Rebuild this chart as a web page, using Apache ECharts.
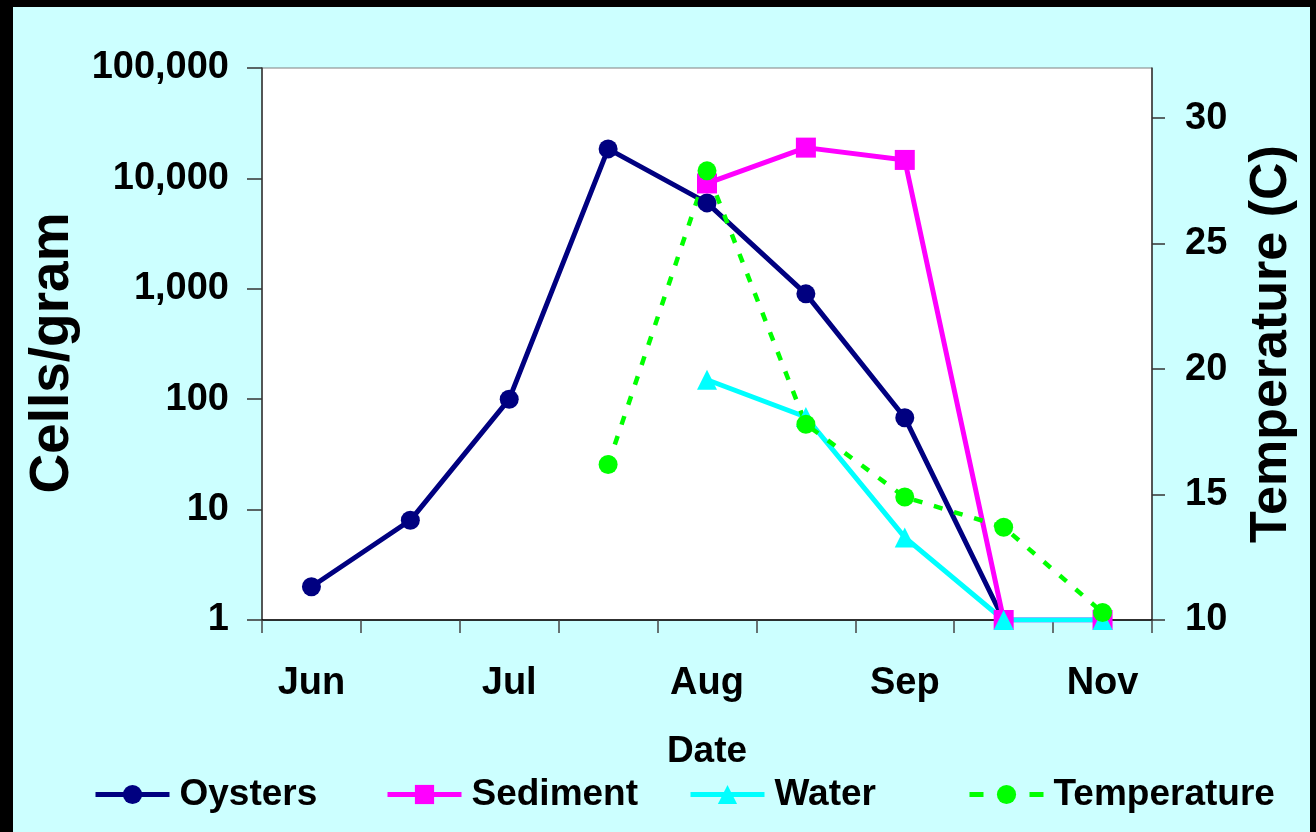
<!DOCTYPE html>
<html>
<head>
<meta charset="utf-8">
<script src="https://cdn.jsdelivr.net/npm/echarts@6/dist/echarts.min.js"></script>
<style>
  html, body { margin: 0; padding: 0; background: #000; width: 1316px; height: 832px; overflow: hidden; }
  #chart { position: absolute; left: 13px; top: 7px; width: 1297px; height: 825px; }
</style>
</head>
<body>
<div id="chart"></div>
<script>
// Sampling dates (month labels shown under every other sample)
const sampleLabels = ['Jun', '', 'Jul', '', 'Aug', '', 'Sep', '', 'Nov'];

// Cell counts (cells/gram), log scale
const oysters  = [2, 8, 100, 18500, 6000, 900, 68, 1, null];
const sediment = [null, null, null, null, 9000, 19000, 14700, 1, 1];
const water    = [null, null, null, null, 150, 69, 5.6, 1, 1];

// Water temperature (C), right axis
const temperature = [null, null, null, 16.2, 27.9, 17.8, 14.9, 13.7, 10.3];
const temperatureTicks = [10, 15, 20, 25, 30];

const FONT = "'Liberation Sans', Arial, sans-serif";
const txt = (size) => ({ color: '#000', fontFamily: FONT, fontWeight: 'bold', fontSize: size });

const chart = echarts.init(document.getElementById('chart'), null, { renderer: 'canvas' });

const legendBase = {
  top: 769,
  padding: 0,
  itemWidth: 74,
  itemHeight: 24,
  selectedMode: false,
  lineStyle: { width: 5 },
  textStyle: Object.assign(txt(37), { padding: [0, 0, 0, 5] })
};

chart.setOption({
  backgroundColor: '#CCFFFF',
  animation: false,
  grid: {
    left: 249, top: 61, right: 158, bottom: 212,
    show: true, backgroundColor: '#FFFFFF', borderColor: '#808080', borderWidth: 1
  },
  legend: [
    Object.assign({}, legendBase, { left: 80,  data: ['Oysters'] }),
    Object.assign({}, legendBase, { left: 372, data: ['Sediment'] }),
    Object.assign({}, legendBase, { left: 675, data: ['Water'] }),
    Object.assign({}, legendBase, {
      left: 954,
      data: [{ name: 'Temperature', lineStyle: { width: 5, type: [14, 46] } }]
    })
  ],
  xAxis: {
    type: 'category',
    data: sampleLabels,
    boundaryGap: true,
    name: 'Date',
    nameLocation: 'middle',
    nameGap: 113,
    nameTextStyle: txt(37),
    axisLine: { lineStyle: { color: '#000', width: 1.5 } },
    axisTick: { show: true, length: 13, inside: false, lineStyle: { color: '#444', width: 1.5 } },
    axisLabel: Object.assign(txt(38), { interval: 0, margin: 45 }),
    splitLine: { show: false }
  },
  yAxis: [
    {
      type: 'log',
      logBase: 10,
      min: 1,
      max: 100000,
      position: 'left',
      name: 'Cells/gram',
      nameLocation: 'middle',
      nameGap: 179,
      nameTextStyle: Object.assign(txt(55), { padding: [0, 18, 0, 0] }),
      axisLine: { show: true, lineStyle: { color: '#333', width: 1.5 } },
      axisTick: { show: true, length: 15, lineStyle: { color: '#333', width: 1.5 } },
      axisLabel: Object.assign(txt(38), {
        margin: 33,
        formatter: (v) => Math.round(v).toLocaleString('en-US')
      }),
      splitLine: { show: false },
      minorTick: { show: false }
    },
    {
      type: 'value',
      min: 10,
      max: 32,
      position: 'right',
      name: 'Temperature (C)',
      nameLocation: 'middle',
      nameGap: 94,
      nameTextStyle: txt(52),
      axisLine: { show: true, lineStyle: { color: '#333', width: 1.5 } },
      axisTick: { show: true, length: 13, customValues: temperatureTicks, lineStyle: { color: '#333', width: 1.5 } },
      axisLabel: Object.assign(txt(38), { margin: 33, customValues: temperatureTicks }),
      splitLine: { show: false }
    }
  ],
  series: [
    {
      name: 'Oysters', type: 'line', yAxisIndex: 0, data: oysters,
      symbol: 'circle', symbolSize: 19,
      lineStyle: { color: '#000080', width: 5 },
      itemStyle: { color: '#000080' }
    },
    {
      name: 'Sediment', type: 'line', yAxisIndex: 0, data: sediment,
      symbol: 'rect', symbolSize: 20,
      lineStyle: { color: '#FF00FF', width: 5 },
      itemStyle: { color: '#FF00FF' }
    },
    {
      name: 'Water', type: 'line', yAxisIndex: 0, data: water,
      symbol: 'triangle', symbolSize: 20,
      lineStyle: { color: '#00FFFF', width: 5 },
      itemStyle: { color: '#00FFFF' }
    },
    {
      name: 'Temperature', type: 'line', yAxisIndex: 1, data: temperature,
      symbol: 'circle', symbolSize: 19,
      lineStyle: { color: '#00FF00', width: 4.5, type: [9, 12] },
      itemStyle: { color: '#00FF00' }
    }
  ]
});
</script>
</body>
</html>
